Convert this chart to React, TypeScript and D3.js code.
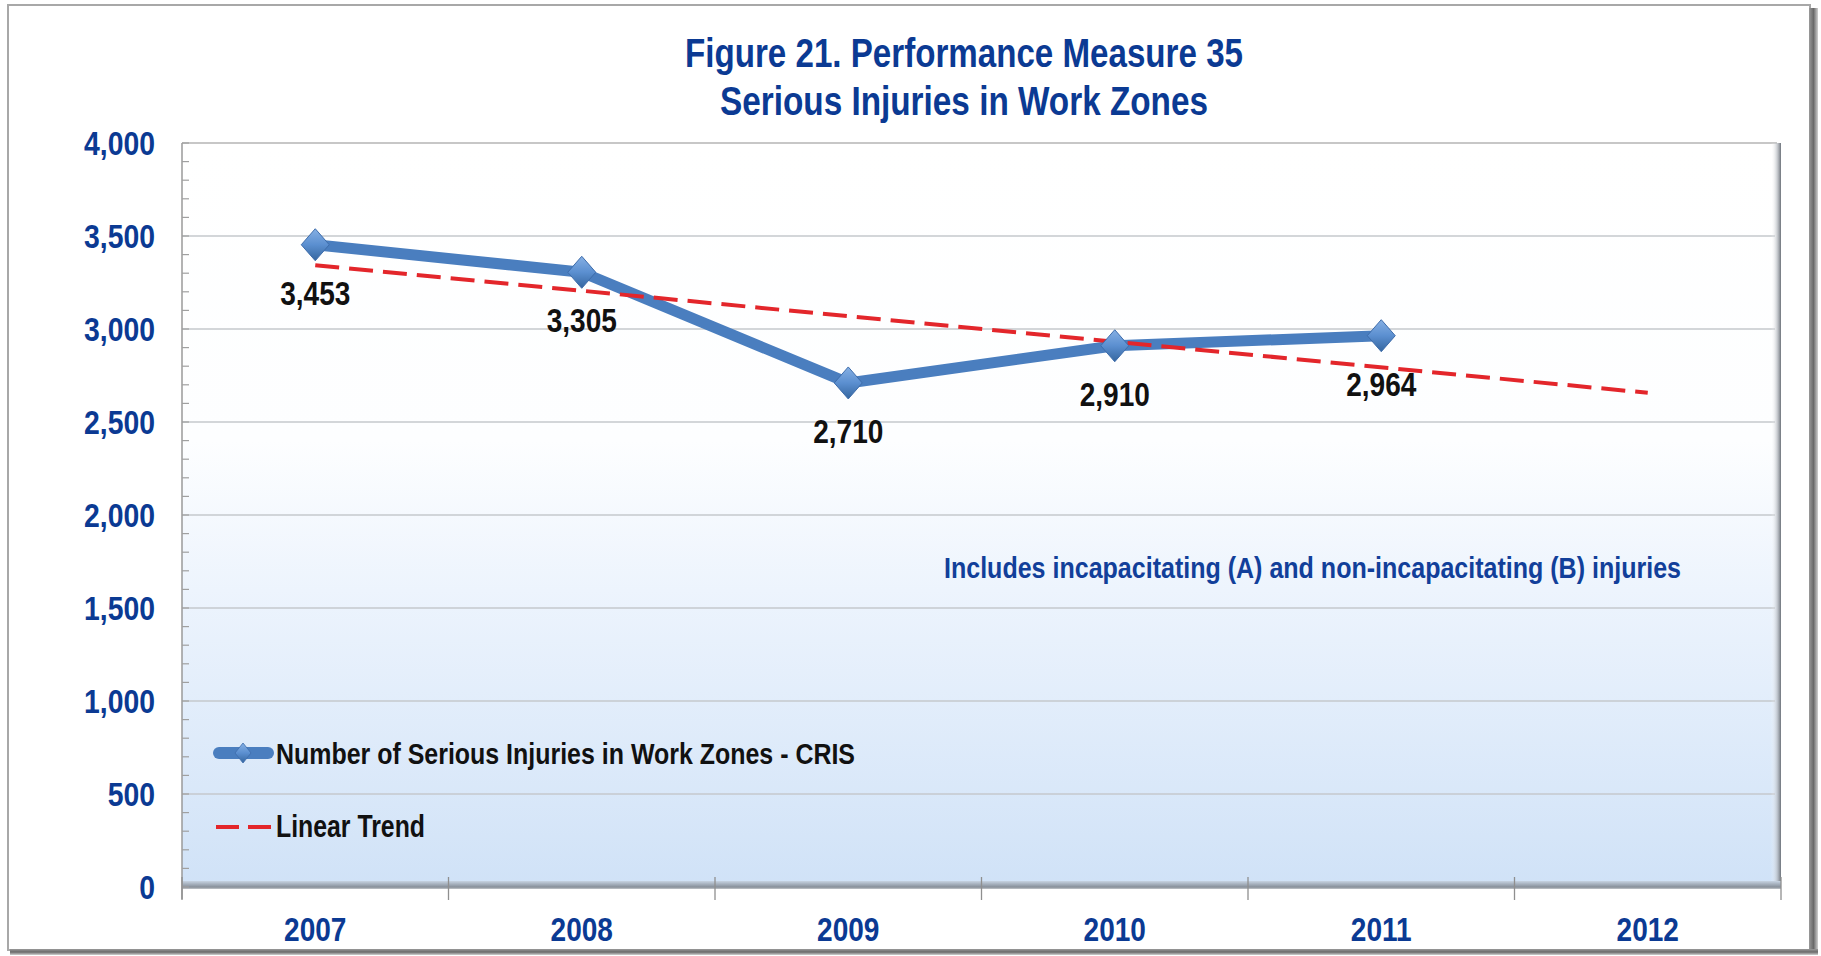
import React from "react";
import * as d3 from "d3";

const years = ["2007", "2008", "2009", "2010", "2011", "2012"];
const injuryYears = ["2007", "2008", "2009", "2010", "2011"];
const injuries = [3453, 3305, 2710, 2910, 2964];
const trendYears = ["2007", "2012"];
const trendValues = [3343, 2657];
const yTicks = [0, 500, 1000, 1500, 2000, 2500, 3000, 3500, 4000];
const titleLines = ["Figure 21. Performance Measure 35", "Serious Injuries in Work Zones"];
const noteText = "Includes incapacitating (A) and non-incapacitating (B) injuries";
const legendLabels = ["Number of Serious Injuries in Work Zones - CRIS", "Linear Trend"];

const W = 1821;
const H = 956;
const PL = 182, PR = 1781, PT = 143, PB = 887;
const FONT = "'Liberation Sans', Arial, Helvetica, sans-serif";
const BLUE_TXT = "#0B3A93";
const LINE_BLUE = "#4A7EBF";
const RED = "#E3262B";

export default function App() {
  const x = d3.scaleBand().domain(years).range([PL, PR]).padding(0);
  const cx = (yr: string) => (x(yr) as number) + x.bandwidth() / 2;
  const y = d3.scaleLinear().domain([0, 4000]).range([PB, PT]);

  const pts = injuryYears.map((yr, i) => [cx(yr), y(injuries[i])] as [number, number]);
  const linePath = d3.line()(pts) as string;
  const trendPts = trendYears.map((yr, i) => [cx(yr), y(trendValues[i])] as [number, number]);
  const trendPath = d3.line()(trendPts) as string;

  const diamond = (w: number, h: number) => `M0,${-h} L${w},0 L0,${h} L${-w},0 Z`;
  const minor = d3.range(0, 4001, 100);
  const boundaries = years.map((yr) => x(yr) as number).concat([PR]);

  return (
    <svg
      width={W}
      height={H}
      style={{ position: "absolute", left: 0, top: 0, display: "block" }}
      fontFamily={FONT}
    >
      <defs>
        <linearGradient id="plotBg" x1="0" y1="0" x2="0" y2="1">
          <stop offset="0" stopColor="#ffffff" />
          <stop offset="0.4" stopColor="#fdfeff" />
          <stop offset="0.6" stopColor="#edf4fd" />
          <stop offset="1" stopColor="#d0e2f7" />
        </linearGradient>
        <linearGradient id="rightShade" x1="0" y1="0" x2="1" y2="0">
          <stop offset="0" stopColor="#ffffff" stopOpacity="0" />
          <stop offset="0.6" stopColor="#b8bcc2" stopOpacity="0.7" />
          <stop offset="1" stopColor="#6d737b" />
        </linearGradient>
        <linearGradient id="floorShade" x1="0" y1="0" x2="0" y2="1">
          <stop offset="0" stopColor="#c6d3e2" />
          <stop offset="1" stopColor="#7d858f" />
        </linearGradient>
        <linearGradient id="frameRight" x1="0" y1="0" x2="1" y2="0">
          <stop offset="0" stopColor="#9a9a9a" />
          <stop offset="0.5" stopColor="#6a6a6a" />
          <stop offset="1" stopColor="#d0d0d0" />
        </linearGradient>
        <linearGradient id="frameBottom" x1="0" y1="0" x2="0" y2="1">
          <stop offset="0" stopColor="#9a9a9a" />
          <stop offset="0.5" stopColor="#6a6a6a" />
          <stop offset="1" stopColor="#d0d0d0" />
        </linearGradient>
        <linearGradient id="diamondFill" x1="0" y1="0" x2="0" y2="1">
          <stop offset="0" stopColor="#86b0e4" />
          <stop offset="0.5" stopColor="#5b8fd0" />
          <stop offset="1" stopColor="#35669f" />
        </linearGradient>
      </defs>

      {/* outer frame */}
      <rect x={0} y={0} width={W} height={H} fill="#ffffff" />
      <rect x={8} y={5} width={1802} height={945} fill="#ffffff" stroke="#a8a8a8" strokeWidth={2} />
      <rect x={1809} y={8} width={9} height={945} fill="url(#frameRight)" />
      <rect x={10} y={949} width={1808} height={6} fill="url(#frameBottom)" />

      {/* plot area */}
      <rect x={PL} y={PT} width={PR - PL} height={PB - PT} fill="url(#plotBg)" />
      {yTicks.filter((v) => v > 0 && v < 4000).map((v) => (
        <line key={"g" + v} x1={PL} x2={PR - 6} y1={y(v)} y2={y(v)} stroke="#c4c8cc" strokeWidth={1.6} />
      ))}
      <line x1={PL} x2={PR - 4} y1={PT} y2={PT} stroke="#b5b5b5" strokeWidth={1.6} />
      <rect x={PR - 10} y={PT} width={10} height={PB - PT} fill="url(#rightShade)" />
      <rect x={PL} y={PB - 6} width={PR - PL} height={7} fill="url(#floorShade)" />
      <line x1={PL} x2={PR} y1={PB + 1} y2={PB + 1} stroke="#9aa0a8" strokeWidth={1.5} />

      {/* y axis */}
      <line x1={PL} x2={PL} y1={PT} y2={PB + 12} stroke="#9a9a9a" strokeWidth={1.5} />
      {minor.map((v) => (
        <line key={"m" + v} x1={PL} x2={PL + 7} y1={y(v)} y2={y(v)} stroke="#a0a0a0" strokeWidth={1.2} />
      ))}
      {yTicks.map((v) => (
        <text
          key={"yt" + v}
          transform={`translate(155,${y(v) + 11.5}) scale(0.86,1)`}
          textAnchor="end"
          fontSize={33}
          fontWeight="bold"
          fill={BLUE_TXT}
        >
          {d3.format(",")(v)}
        </text>
      ))}

      {/* x axis ticks & labels */}
      {boundaries.map((bx, i) => (
        <line key={"xt" + i} x1={bx} x2={bx} y1={PB - 10} y2={PB + 13} stroke="#8f8f8f" strokeWidth={1.3} />
      ))}
      {years.map((yr) => (
        <text
          key={"xl" + yr}
          transform={`translate(${cx(yr)},941) scale(0.85,1)`}
          textAnchor="middle"
          fontSize={33}
          fontWeight="bold"
          fill={BLUE_TXT}
        >
          {yr}
        </text>
      ))}

      {/* series */}
      <path d={linePath} fill="none" stroke={LINE_BLUE} strokeWidth={11} strokeLinejoin="round" />
      <path d={trendPath} fill="none" stroke={RED} strokeWidth={4} strokeDasharray="24 10" />
      {pts.map(([px, py], i) => (
        <path
          key={"d" + i}
          d={diamond(14, 16)}
          transform={`translate(${px},${py})`}
          fill="url(#diamondFill)"
          stroke="#3d6cab"
          strokeWidth={1}
        />
      ))}
      {pts.map(([px, py], i) => (
        <text
          key={"lab" + i}
          transform={`translate(${px},${py + 60}) scale(0.85,1)`}
          textAnchor="middle"
          fontSize={33}
          fontWeight="bold"
          fill="#111111"
        >
          {d3.format(",")(injuries[i])}
        </text>
      ))}

      {/* note */}
      <text
        x={944}
        y={578}
        fontSize={29}
        fontWeight="bold"
        fill="#123F9A"
        textLength={737}
        lengthAdjust="spacingAndGlyphs"
      >
        {noteText}
      </text>

      {/* legend */}
      <line x1={219} x2={268} y1={753} y2={753} stroke={LINE_BLUE} strokeWidth={12} strokeLinecap="round" />
      <path d={diamond(8, 10)} transform="translate(243,753)" fill="url(#diamondFill)" stroke="#3d6cab" strokeWidth={0.8} />
      <text x={276} y={764} fontSize={29} fontWeight="bold" fill="#111111" textLength={579} lengthAdjust="spacingAndGlyphs">
        {legendLabels[0]}
      </text>
      <line x1={216} x2={271} y1={827} y2={827} stroke={RED} strokeWidth={4} strokeDasharray="23 9" />
      <text x={276} y={837} fontSize={31} fontWeight="bold" fill="#111111" textLength={149} lengthAdjust="spacingAndGlyphs">
        {legendLabels[1]}
      </text>

      {/* title */}
      <text x={964} y={67} textAnchor="middle" fontSize={40} fontWeight="bold" fill={BLUE_TXT} textLength={558} lengthAdjust="spacingAndGlyphs">
        {titleLines[0]}
      </text>
      <text x={964} y={115} textAnchor="middle" fontSize={40} fontWeight="bold" fill={BLUE_TXT} textLength={488} lengthAdjust="spacingAndGlyphs">
        {titleLines[1]}
      </text>
    </svg>
  );
}
